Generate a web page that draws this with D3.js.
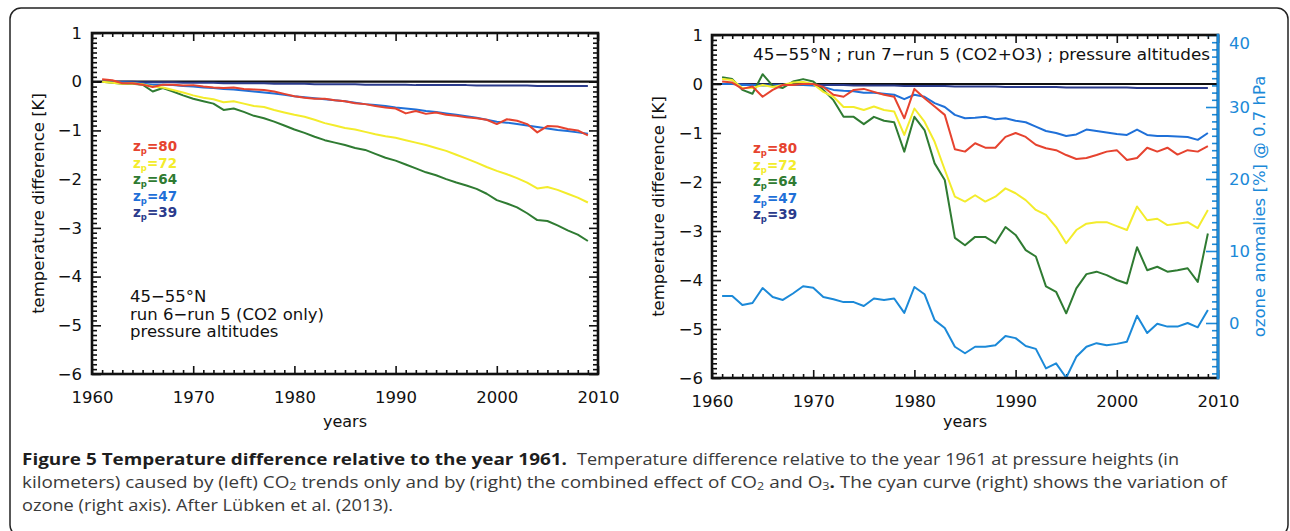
<!DOCTYPE html>
<html>
<head>
<meta charset="utf-8">
<title>Figure 5 temperature difference</title>
<style>
  body { margin: 0; background: #fff; }
  svg { display: block; }
</style>
</head>
<body>
<script src="https://cdnjs.cloudflare.com/ajax/libs/d3/7.8.5/d3.min.js"></script>
<script>
// years on the x axis (one value per model year)
var years = [1961, 1962, 1963, 1964, 1965, 1966, 1967, 1968, 1969, 1970,
  1971, 1972, 1973, 1974, 1975, 1976, 1977, 1978, 1979, 1980,
  1981, 1982, 1983, 1984, 1985, 1986, 1987, 1988, 1989, 1990,
  1991, 1992, 1993, 1994, 1995, 1996, 1997, 1998, 1999, 2000,
  2001, 2002, 2003, 2004, 2005, 2006, 2007, 2008, 2009];

var heights = [80, 72, 64, 47, 39];
var colors = ["#e6432f", "#f3ec2c", "#2f7b32", "#1f70d8", "#2b3b8c"];
var ozoneColor = "#1b89d8";

// left: run 6 - run 5 (CO2 only)
var left80 = [0.05, 0.03, -0.03, -0.03, -0.06, -0.11, -0.06, -0.06, -0.08, -0.07,
  -0.1, -0.12, -0.13, -0.12, -0.15, -0.16, -0.17, -0.2, -0.25, -0.3,
  -0.33, -0.35, -0.35, -0.38, -0.4, -0.44, -0.46, -0.5, -0.53, -0.55,
  -0.65, -0.6, -0.66, -0.63, -0.68, -0.7, -0.73, -0.75, -0.78, -0.87,
  -0.77, -0.8, -0.87, -1.04, -0.91, -0.92, -0.97, -1.0, -1.1];
var left72 = [0.0, -0.02, -0.04, -0.03, -0.05, -0.1, -0.12, -0.17, -0.22, -0.28,
  -0.33, -0.36, -0.42, -0.4, -0.45, -0.5, -0.52, -0.58, -0.63, -0.68,
  -0.72, -0.78, -0.85, -0.9, -0.95, -0.98, -1.03, -1.08, -1.12, -1.15,
  -1.2, -1.25, -1.3, -1.36, -1.42, -1.5, -1.58, -1.66, -1.75, -1.83,
  -1.9, -1.98, -2.07, -2.19, -2.16, -2.22, -2.3, -2.38, -2.48];
var left64 = [0.0, -0.02, -0.04, -0.04, -0.06, -0.2, -0.13, -0.2, -0.28, -0.35,
  -0.4, -0.45, -0.58, -0.55, -0.62, -0.7, -0.75, -0.82, -0.9, -0.98,
  -1.05, -1.13, -1.2, -1.25, -1.3, -1.36, -1.4, -1.48, -1.56, -1.62,
  -1.7, -1.78, -1.86, -1.92, -2.0, -2.07, -2.13, -2.2, -2.3, -2.43,
  -2.5, -2.58, -2.7, -2.84, -2.86, -2.95, -3.05, -3.14, -3.27];
var left47 = [0.0, 0.0, -0.01, -0.02, -0.04, -0.06, -0.06, -0.07, -0.09, -0.1,
  -0.12, -0.13, -0.15, -0.16, -0.18, -0.2, -0.22, -0.24, -0.27, -0.3,
  -0.32, -0.34, -0.36, -0.38, -0.4, -0.43, -0.46, -0.48, -0.5, -0.53,
  -0.55, -0.57, -0.6, -0.62, -0.65, -0.68, -0.71, -0.74, -0.78, -0.82,
  -0.84, -0.87, -0.9, -0.93, -0.96, -0.99, -1.01, -1.04, -1.07];
var left39 = [0, 0, 0, 0, -0.01, -0.01, -0.01, -0.01, -0.02, -0.02,
  -0.02, -0.02, -0.03, -0.03, -0.03, -0.03, -0.03, -0.04, -0.04, -0.04,
  -0.04, -0.05, -0.05, -0.05, -0.05, -0.05, -0.06, -0.06, -0.06, -0.06,
  -0.06, -0.07, -0.07, -0.07, -0.07, -0.07, -0.07, -0.08, -0.08, -0.08,
  -0.08, -0.08, -0.08, -0.09, -0.09, -0.09, -0.09, -0.09, -0.09];

// right: run 7 - run 5 (CO2+O3)
var right80 = [0.05, 0.03, -0.1, -0.05, -0.26, -0.12, -0.02, -0.02, 0.0, 0.0,
  -0.06, -0.22, -0.26, -0.12, -0.1, -0.16, -0.22, -0.26, -0.7, -0.1,
  -0.29, -0.46, -0.63, -1.33, -1.38, -1.21, -1.3, -1.3, -1.08, -1.0,
  -1.08, -1.24, -1.31, -1.35, -1.45, -1.53, -1.51, -1.45, -1.38, -1.35,
  -1.55, -1.51, -1.3, -1.38, -1.3, -1.44, -1.35, -1.38, -1.27];
var right72 = [0.1, 0.08, -0.08, -0.08, -0.02, -0.06, -0.02, 0.03, 0.04, 0.0,
  -0.16, -0.26, -0.47, -0.47, -0.53, -0.46, -0.53, -0.56, -1.04, -0.5,
  -0.77, -1.18, -1.75, -2.3, -2.4, -2.27, -2.4, -2.3, -2.13, -2.23,
  -2.37, -2.57, -2.67, -2.92, -3.25, -2.98, -2.85, -2.82, -2.82, -2.9,
  -2.98, -2.5, -2.78, -2.75, -2.88, -2.85, -2.82, -2.94, -2.57];
var right64 = [0.14, 0.1, -0.12, -0.2, 0.2, -0.04, -0.08, 0.05, 0.1, 0.05,
  -0.12, -0.33, -0.67, -0.67, -0.82, -0.67, -0.75, -0.78, -1.38, -0.67,
  -0.94, -1.62, -1.96, -3.14, -3.29, -3.12, -3.12, -3.25, -2.92, -3.08,
  -3.39, -3.52, -4.13, -4.24, -4.68, -4.17, -3.88, -3.83, -3.9, -4.0,
  -4.07, -3.33, -3.8, -3.73, -3.83, -3.8, -3.76, -4.04, -3.05];
var right47 = [0.0, 0.0, -0.02, -0.02, -0.03, -0.03, -0.02, -0.02, -0.02, -0.03,
  -0.06, -0.12, -0.14, -0.15, -0.18, -0.18, -0.2, -0.22, -0.31, -0.22,
  -0.26, -0.39, -0.47, -0.63, -0.7, -0.69, -0.67, -0.72, -0.7, -0.75,
  -0.78, -0.87, -0.96, -1.0, -1.06, -1.03, -0.93, -0.96, -0.99, -1.02,
  -1.04, -0.93, -1.04, -1.06, -1.06, -1.07, -1.08, -1.14, -1.0];
var right39 = [0, 0, 0, -0.01, -0.01, -0.01, -0.01, -0.01, -0.02, -0.02,
  -0.02, -0.02, -0.02, -0.03, -0.03, -0.03, -0.03, -0.03, -0.04, -0.04,
  -0.04, -0.04, -0.04, -0.05, -0.05, -0.05, -0.05, -0.05, -0.06, -0.06,
  -0.06, -0.06, -0.06, -0.06, -0.07, -0.07, -0.07, -0.07, -0.07, -0.07,
  -0.07, -0.08, -0.08, -0.08, -0.08, -0.08, -0.08, -0.08, -0.08];

// ozone anomalies [%] @ 0.7 hPa (right axis of right panel)
var ozone = [3.75, 3.75, 2.5, 2.78, 4.86, 3.6, 3.2, 4.1, 5.1, 4.9,
  3.6, 3.3, 2.9, 2.9, 2.36, 3.4, 3.2, 3.4, 1.4, 5.0,
  4.0, 0.4, -0.7, -3.3, -4.2, -3.3, -3.3, -3.1, -1.8, -2.1,
  -3.2, -3.6, -6.3, -5.6, -7.6, -4.7, -3.3, -2.8, -3.1, -2.9,
  -2.6, 1.0, -1.4, -0.1, -0.5, -0.5, 0.0, -0.6, 1.8];

var xTicks = [1960, 1970, 1980, 1990, 2000, 2010];
var yTicks = [1, 0, -1, -2, -3, -4, -5, -6];
var ozoneTicks = [0, 10, 20, 30, 40];

var font = "DejaVu Sans";

var svg = d3.select("body").append("svg")
  .attr("width", 1290)
  .attr("height", 531);

// outer frame of the figure
svg.append("rect")
  .attr("x", 10).attr("y", 8)
  .attr("width", 1278).attr("height", 528)
  .attr("rx", 11)
  .attr("fill", "none")
  .attr("stroke", "#222")
  .attr("stroke-width", 1.5);

function minorOf(lo, hi, step, majors) {
  var out = [];
  for (var i = Math.round(lo / step); i <= Math.round(hi / step); i++) {
    var v = +(i * step).toFixed(3);
    if (majors.indexOf(v) < 0) out.push(v);
  }
  return out;
}

function styleAxis(g, color) {
  g.select(".domain").remove();
  g.selectAll("line").attr("stroke", color).attr("stroke-width", 1.6);
  g.selectAll("text")
    .attr("fill", color)
    .attr("font-family", font)
    .attr("font-size", 16.5);
}

function drawPanel(cfg) {
  var x = d3.scaleLinear().domain([1960, 2010]).range([cfg.x0, cfg.x1]);
  var y = d3.scaleLinear().domain([-6, 1]).range([cfg.y1, cfg.y0]);
  var g = svg.append("g");

  var xMinor = minorOf(1960, 2010, 1, xTicks);
  var yMinor = minorOf(-6, 1, 0.1, yTicks);

  // bottom / top
  g.append("g").attr("transform", "translate(0," + cfg.y1 + ")")
    .call(d3.axisBottom(x).tickValues(xTicks).tickSize(-8).tickPadding(17).tickFormat(d3.format("d")))
    .call(styleAxis, "#111");
  g.append("g").attr("transform", "translate(0," + cfg.y1 + ")")
    .call(d3.axisBottom(x).tickValues(xMinor).tickSize(-4).tickFormat(""))
    .call(styleAxis, "#111");
  g.append("g").attr("transform", "translate(0," + cfg.y0 + ")")
    .call(d3.axisTop(x).tickValues(xTicks).tickSize(-8).tickFormat(""))
    .call(styleAxis, "#111");
  g.append("g").attr("transform", "translate(0," + cfg.y0 + ")")
    .call(d3.axisTop(x).tickValues(xMinor).tickSize(-4).tickFormat(""))
    .call(styleAxis, "#111");

  // left
  g.append("g").attr("transform", "translate(" + cfg.x0 + ",0)")
    .call(d3.axisLeft(y).tickValues(yTicks).tickSize(-9).tickPadding(cfg.yPad).tickFormat(d3.format("d")))
    .call(styleAxis, "#111");
  g.append("g").attr("transform", "translate(" + cfg.x0 + ",0)")
    .call(d3.axisLeft(y).tickValues(yMinor).tickSize(-5).tickFormat(""))
    .call(styleAxis, "#111");

  var yO = null;
  if (!cfg.ozone) {
    g.append("g").attr("transform", "translate(" + cfg.x1 + ",0)")
      .call(d3.axisRight(y).tickValues(yTicks).tickSize(-9).tickFormat(""))
      .call(styleAxis, "#111");
    g.append("g").attr("transform", "translate(" + cfg.x1 + ",0)")
      .call(d3.axisRight(y).tickValues(yMinor).tickSize(-5).tickFormat(""))
      .call(styleAxis, "#111");
  } else {
    yO = d3.scaleLinear().domain([-7.64, 40]).range([cfg.y1, cfg.y0]);
    var oMinor = minorOf(-7, 40, 1, ozoneTicks);
    g.append("g").attr("transform", "translate(" + cfg.x1 + ",0)")
      .call(d3.axisRight(yO).tickValues(ozoneTicks).tickSize(-12).tickPadding(11).tickFormat(d3.format("d")))
      .call(styleAxis, ozoneColor)
      .call(function (a) {
        a.selectAll(".tick").filter(function (d) { return d === 40; })
          .select("text").attr("dy", "0.8em");
      });
    g.append("g").attr("transform", "translate(" + cfg.x1 + ",0)")
      .call(d3.axisRight(yO).tickValues(oMinor).tickSize(-6).tickFormat(""))
      .call(styleAxis, ozoneColor);
  }

  // zero line
  g.append("line")
    .attr("x1", cfg.x0).attr("x2", cfg.x1)
    .attr("y1", y(0)).attr("y2", y(0))
    .attr("stroke", "#111").attr("stroke-width", 2.2);

  var line = d3.line()
    .x(function (d, i) { return x(years[i]); })
    .y(function (d) { return y(d); });

  // draw from z=39 upwards, red last
  for (var k = cfg.series.length - 1; k >= 0; k--) {
    g.append("path")
      .datum(cfg.series[k])
      .attr("d", line)
      .attr("fill", "none")
      .attr("stroke", colors[k])
      .attr("stroke-width", 2)
      .attr("stroke-linejoin", "round");
  }

  if (yO) {
    g.append("path")
      .datum(ozone)
      .attr("d", d3.line()
        .x(function (d, i) { return x(years[i]); })
        .y(function (d) { return yO(d); }))
      .attr("fill", "none")
      .attr("stroke", ozoneColor)
      .attr("stroke-width", 2)
      .attr("stroke-linejoin", "round");
  }

  // plot frame
  g.append("rect")
    .attr("x", cfg.x0).attr("y", cfg.y0)
    .attr("width", cfg.x1 - cfg.x0).attr("height", cfg.y1 - cfg.y0)
    .attr("fill", "none").attr("stroke", "#111").attr("stroke-width", 2.6);
  if (yO) {
    g.append("line")
      .attr("x1", cfg.x1).attr("x2", cfg.x1)
      .attr("y1", cfg.y0 - 1.3).attr("y2", cfg.y1 + 1.3)
      .attr("stroke", ozoneColor).attr("stroke-width", 2.8);
  }

  // legend
  var leg = g.append("g")
    .attr("font-family", font)
    .attr("font-size", 13.5)
    .attr("font-weight", "bold");
  heights.forEach(function (h, i) {
    var t = leg.append("text")
      .attr("x", cfg.legX)
      .attr("y", cfg.legY + i * 16.5)
      .attr("fill", colors[i]);
    t.append("tspan").text("z");
    t.append("tspan").attr("font-size", 8.5).attr("dy", 3).text("p");
    t.append("tspan").attr("dy", -3).text("=" + h);
  });

  // axis titles
  g.append("text")
    .attr("transform", "translate(" + cfg.yTitleX + "," + ((cfg.y0 + cfg.y1) / 2) + ") rotate(-90)")
    .attr("text-anchor", "middle")
    .attr("font-family", font).attr("font-size", 16.5)
    .attr("fill", "#111")
    .text("temperature difference [K]");
  g.append("text")
    .attr("x", (cfg.x0 + cfg.x1) / 2).attr("y", 427)
    .attr("text-anchor", "middle")
    .attr("font-family", font).attr("font-size", 16)
    .attr("fill", "#111")
    .text("years");
  if (yO) {
    g.append("text")
      .attr("transform", "translate(1265," + ((cfg.y0 + cfg.y1) / 2) + ") rotate(-90)")
      .attr("text-anchor", "middle")
      .attr("font-family", font).attr("font-size", 16.5)
      .attr("fill", ozoneColor)
      .text("ozone anomalies [%] @ 0.7 hPa");
  }
  return g;
}

var leftPanel = drawPanel({
  x0: 92, x1: 598, y0: 33, y1: 374,
  yPad: 10, yTitleX: 44,
  legX: 133, legY: 151,
  series: [left80, left72, left64, left47, left39]
});

leftPanel.append("g")
  .attr("font-family", font).attr("font-size", 16.5).attr("fill", "#111")
  .selectAll("text")
  .data(["45\u221255\u00b0N", "run 6\u2212run 5 (CO2 only)", "pressure altitudes"])
  .join("text")
  .attr("x", 130)
  .attr("y", function (d, i) { return 302 + i * 17.5; })
  .text(function (d) { return d; });

var rightPanel = drawPanel({
  x0: 712, x1: 1218, y0: 35, y1: 378,
  yPad: 9, yTitleX: 664,
  legX: 753, legY: 153,
  ozone: true,
  series: [right80, right72, right64, right47, right39]
});

rightPanel.append("text")
  .attr("x", 753).attr("y", 60)
  .attr("font-family", font).attr("font-size", 16.5).attr("fill", "#111")
  .attr("textLength", 457).attr("lengthAdjust", "spacingAndGlyphs")
  .text("45\u221255\u00b0N ; run 7\u2212run 5 (CO2+O3) ; pressure altitudes");

// caption
var cap = svg.append("g")
  .attr("font-family", "Open Sans")
  .attr("font-size", 16.5)
  .attr("fill", "#3a3a3a");

cap.append("text")
  .attr("x", 22).attr("y", 465)
  .attr("font-weight", "bold").attr("fill", "#1e1e1e")
  .attr("textLength", 545).attr("lengthAdjust", "spacingAndGlyphs")
  .text("Figure 5 Temperature difference relative to the year 1961.");
cap.append("text")
  .attr("x", 577).attr("y", 465)
  .attr("textLength", 602).attr("lengthAdjust", "spacingAndGlyphs")
  .text("Temperature difference relative to the year 1961 at pressure heights (in");

var line2 = cap.append("text")
  .attr("x", 22).attr("y", 488)
  .attr("textLength", 1205).attr("lengthAdjust", "spacingAndGlyphs");
line2.append("tspan").text("kilometers) caused by (left) CO");
line2.append("tspan").attr("font-size", 11).attr("dy", 2).text("2");
line2.append("tspan").attr("dy", -2).text(" trends only and by (right) the combined effect of CO");
line2.append("tspan").attr("font-size", 11).attr("dy", 2).text("2");
line2.append("tspan").attr("dy", -2).text(" and O");
line2.append("tspan").attr("font-size", 11).attr("dy", 2).text("3");
line2.append("tspan").attr("dy", -2).attr("font-weight", "bold").attr("fill", "#1e1e1e").text(".");
line2.append("tspan").text(" The cyan curve (right) shows the variation of");

cap.append("text")
  .attr("x", 22).attr("y", 511)
  .attr("textLength", 371).attr("lengthAdjust", "spacingAndGlyphs")
  .text("ozone (right axis). After L\u00fcbken et al. (2013).");
</script>
</body>
</html>
